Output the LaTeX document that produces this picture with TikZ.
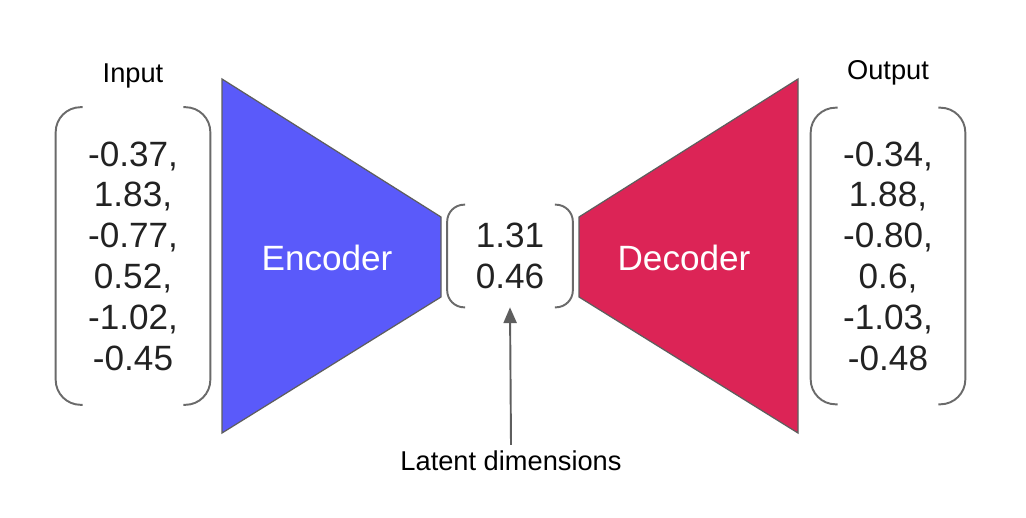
\documentclass[tikz,border=0pt]{standalone}
\usepackage{fontspec}
\setmainfont{Liberation Sans}
\usetikzlibrary{arrows.meta}
\definecolor{encblue}{HTML}{5A5AFA}
\definecolor{deccrimson}{HTML}{DC2456}
\definecolor{edgegray}{HTML}{5E5E5E}
\definecolor{bracketgray}{HTML}{6A6A6A}
\definecolor{numdark}{HTML}{222222}

\tikzset{
  vecbox/.style={inner sep=0pt, align=center, text=numdark,
    font=\fontsize{20}{23.2}\selectfont},
  toplabel/.style={font=\fontsize{15.5}{18}\selectfont},
  coderlabel/.style={text=white, font=\fontsize{20}{24}\selectfont},
  bracketline/.style={bracketgray, line width=1.1pt},
  trapezoid/.style={edgegray, line width=0.7pt},
  pointer/.style={edgegray, line width=1.1pt, -{Triangle[length=9pt,width=7.5pt]}}
}

% round brackets on both sides of a vector node: #1 node, #2 arm, #3 radius
\newcommand{\vecbrackets}[3]{%
  \draw[bracketline, rounded corners=#3]
    ([xshift=#2]#1.north west) -- (#1.north west) -- (#1.south west) -- ([xshift=#2]#1.south west);
  \draw[bracketline, rounded corners=#3]
    ([xshift=-#2]#1.north east) -- (#1.north east) -- (#1.south east) -- ([xshift=-#2]#1.south east);
}

\begin{document}
\begin{tikzpicture}[x=0.02cm, y=-0.02cm]
\useasboundingbox (0,0) rectangle (1026,517);

% Input and Output Vectors
\node[vecbox, minimum width=3.08cm, minimum height=5.94cm] (invec) at (133,256)
  {-0.37,\\ 1.83,\\ -0.77,\\ 0.52,\\ -1.02,\\ -0.45};
\node[vecbox, minimum width=3.08cm, minimum height=5.92cm] (outvec) at (888,256)
  {-0.34,\\ 1.88,\\ -0.80,\\ 0.6,\\ -1.03,\\ -0.48};
\vecbrackets{invec}{0.54cm}{0.5cm}
\vecbrackets{outvec}{0.54cm}{0.5cm}
\node[toplabel] (inlabel) at (133,76) {Input};
\node[toplabel] (outlabel) at (888,73) {Output};

% Encoder Trapezoid
\draw[trapezoid, fill=encblue] (222,79) -- (441,217) -- (441,297) -- (222,433) -- cycle;
\node[coderlabel] (enc) at (327,258) {Encoder};

% Decoder Trapezoid
\draw[trapezoid, fill=deccrimson] (579,217) -- (798,79) -- (798,433) -- (579,297) -- cycle;
\node[coderlabel] (dec) at (684,258) {Decoder};

% Latent Vector
\node[vecbox, minimum width=2.5cm, minimum height=2.04cm] (latent) at (510,256)
  {1.31\\ 0.46};
\vecbrackets{latent}{0.36cm}{0.34cm}

% Pointer to the latent vector
\node[toplabel] (latlabel) at (511,461) {Latent dimensions};
\draw[pointer] (latlabel.north) -- (latent.south);
\end{tikzpicture}
\end{document}
